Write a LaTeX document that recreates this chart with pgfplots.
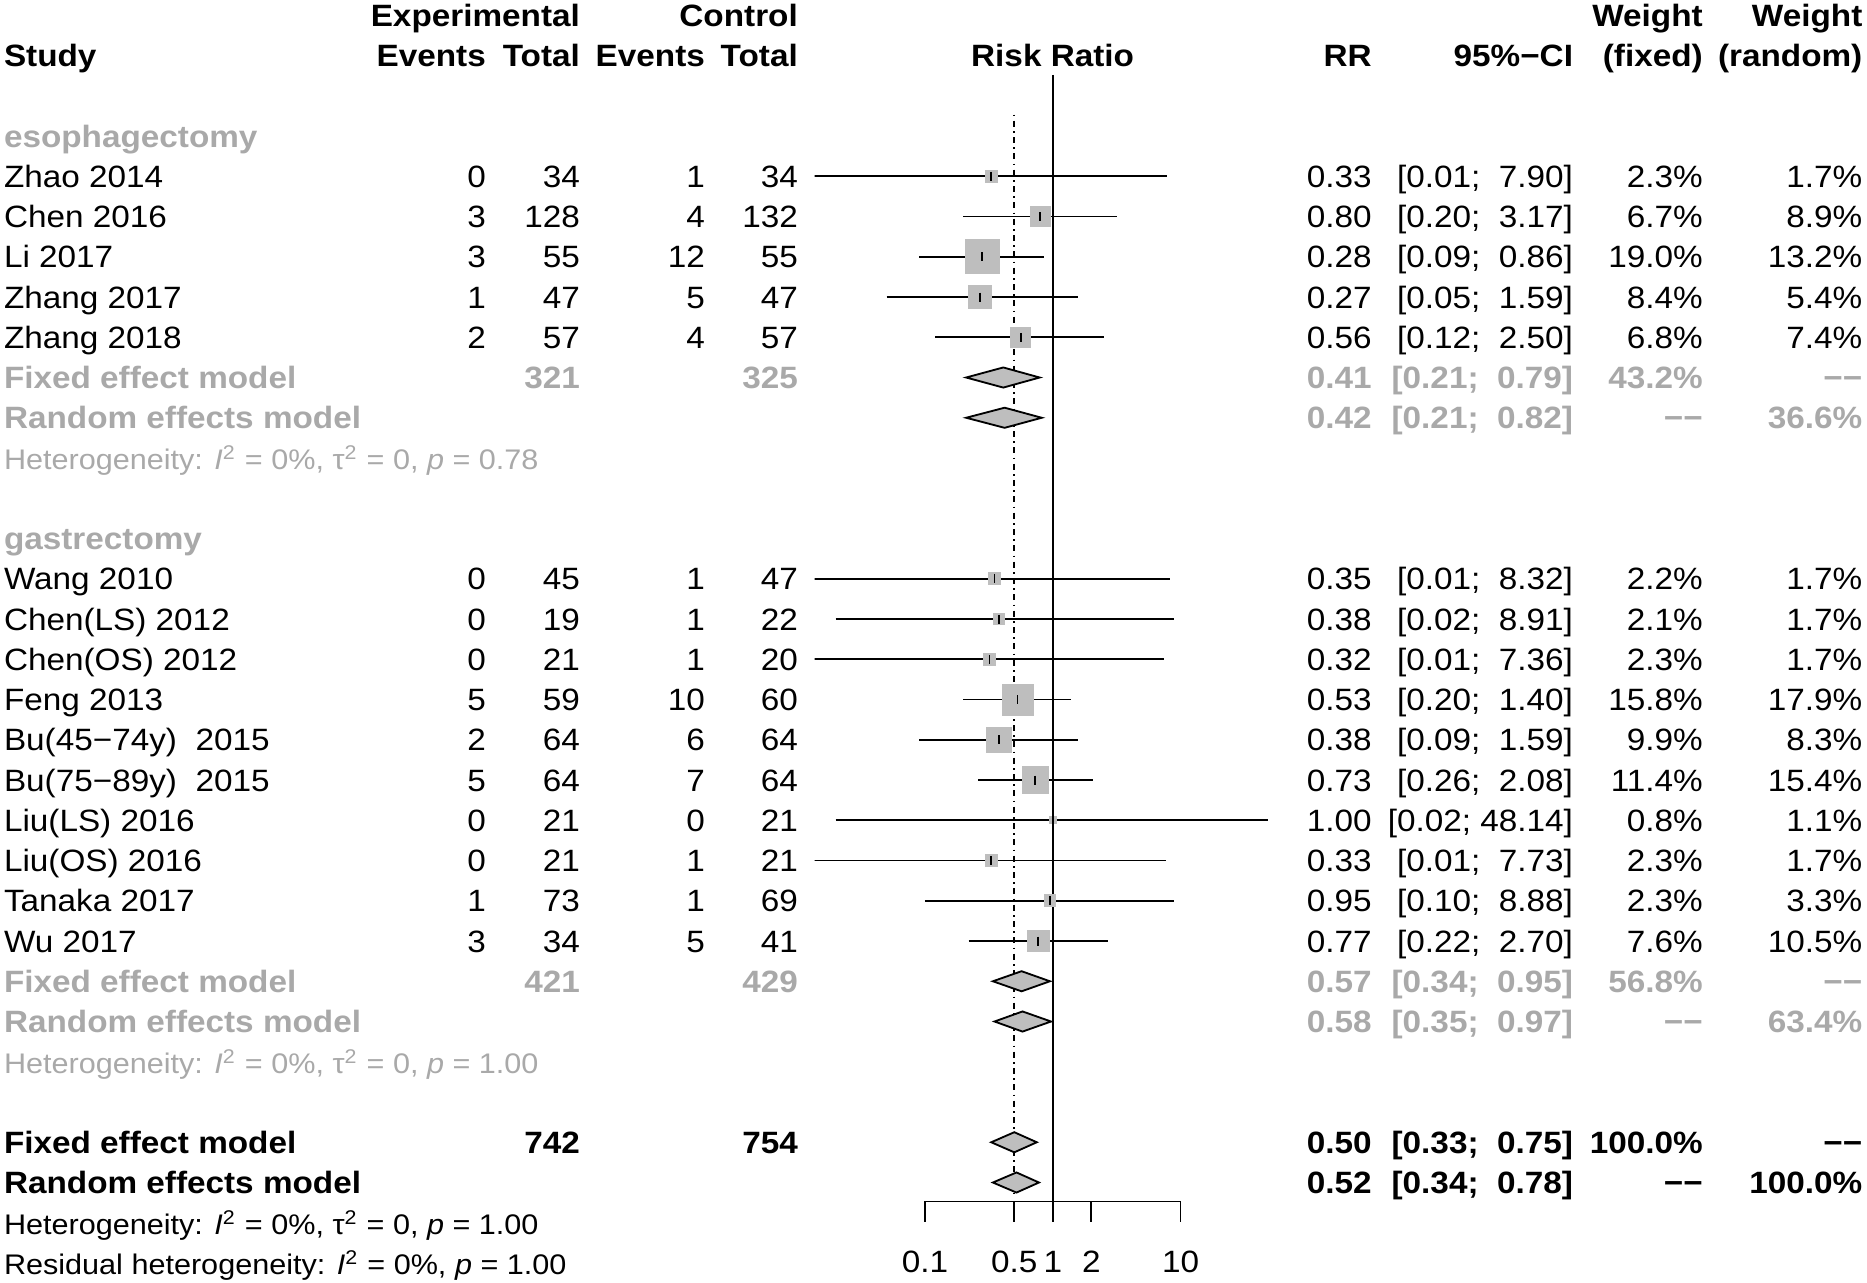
\documentclass[border=0pt]{standalone}
\usepackage{fontspec}
\setmainfont{Liberation Sans}[FakeStretch=1.08]
\usepackage{pgfplots}
\pgfplotsset{compat=1.18}
\usepackage{pgfplotstable}
\definecolor{tgray}{RGB}{169,169,169}
\definecolor{sqgray}{RGB}{190,190,190}

% study estimates: RR, row, fixed weight (%)
\pgfplotstableread{
rr y w
0.33 4 2.3
0.80 5 6.7
0.28 6 19.0
0.27 7 8.4
0.56 8 6.8
0.35 14 2.2
0.38 15 2.1
0.32 16 2.3
0.53 17 15.8
0.38 18 9.9
0.73 19 11.4
1.00 20 0.8
0.33 21 2.3
0.95 22 2.3
0.77 23 7.6
}\studies

\newcommand\study[6]{%
 \node[anchor=base west] at (4,#1) {#2};
 \node[anchor=base east] at (485.8,#1) {#3};
 \node[anchor=base east] at (579.9,#1) {#4};
 \node[anchor=base east] at (704.9,#1) {#5};
 \node[anchor=base east] at (797.8,#1) {#6};}
\newcommand\res[5]{%
 \node[anchor=base east] at (1371.7,#1) {#2};
 \node[anchor=base east] at (1573,#1) {#3};
 \node[anchor=base east] at (1702.7,#1) {#4};
 \node[anchor=base east] at (1862.3,#1) {#5};}
\newcommand\hs{\fontsize{8.5pt}{10pt}\selectfont}

\begin{document}
\fontsize{9.25pt}{11pt}\selectfont
\begin{tikzpicture}
\useasboundingbox (0pt,0pt) rectangle (560.1pt,-384.9pt);
\begin{axis}[
  at={(244.35pt,1.46pt)}, anchor=north west,
  scale only axis, width=142.95pt, height=386.4pt,
  xmode=log, xmin=0.01366, xmax=73.2,
  ymin=-0.5, ymax=31.5, y dir=reverse,
  axis lines=none, clip=true]
% reference lines
\addplot[black, line width=0.6pt] coordinates {(1,1.478) (1,29.47)};
\addplot[black, line width=0.55pt, dash pattern=on 0.5pt off 1.3pt on 1.8pt off 1.3pt] coordinates {(0.50,2.47) (0.50,29.3)};
% confidence intervals
\addplot[black, line width=0.55pt] coordinates {(0.01,4) (7.90,4)};
\addplot[black, line width=0.55pt] coordinates {(0.20,5) (3.17,5)};
\addplot[black, line width=0.55pt] coordinates {(0.09,6) (0.86,6)};
\addplot[black, line width=0.55pt] coordinates {(0.05,7) (1.59,7)};
\addplot[black, line width=0.55pt] coordinates {(0.12,8) (2.50,8)};
\addplot[black, line width=0.55pt] coordinates {(0.01,14) (8.32,14)};
\addplot[black, line width=0.55pt] coordinates {(0.02,15) (8.91,15)};
\addplot[black, line width=0.55pt] coordinates {(0.01,16) (7.36,16)};
\addplot[black, line width=0.55pt] coordinates {(0.20,17) (1.40,17)};
\addplot[black, line width=0.55pt] coordinates {(0.09,18) (1.59,18)};
\addplot[black, line width=0.55pt] coordinates {(0.26,19) (2.08,19)};
\addplot[black, line width=0.55pt] coordinates {(0.02,20) (48.14,20)};
\addplot[black, line width=0.55pt] coordinates {(0.01,21) (7.73,21)};
\addplot[black, line width=0.55pt] coordinates {(0.10,22) (8.88,22)};
\addplot[black, line width=0.55pt] coordinates {(0.22,23) (2.70,23)};
% weighted squares
\addplot[scatter, only marks, mark=square*,
  scatter/use mapped color={draw=sqgray, fill=sqgray},
  mark options={line width=0pt},
  visualization depends on={1.17*sqrt(\thisrow{w}) \as \msz},
  scatter/@pre marker code/.append style={/tikz/mark size=\msz pt}]
  table[x=rr, y=y] {\studies};
\addplot[only marks, mark=|, mark size=1.35pt, mark options={black, line width=0.55pt}]
  table[x=rr, y=y] {\studies};
% diamonds
\addplot[draw=black, fill=sqgray, line width=0.55pt] coordinates {(0.21,9) (0.41,8.75) (0.79,9) (0.41,9.25)} -- cycle;
\addplot[draw=black, fill=sqgray, line width=0.55pt] coordinates {(0.21,10) (0.42,9.75) (0.82,10) (0.42,10.25)} -- cycle;
\addplot[draw=black, fill=sqgray, line width=0.55pt] coordinates {(0.34,24) (0.57,23.75) (0.95,24) (0.57,24.25)} -- cycle;
\addplot[draw=black, fill=sqgray, line width=0.55pt] coordinates {(0.35,25) (0.58,24.75) (0.97,25) (0.58,25.25)} -- cycle;
\addplot[draw=black, fill=sqgray, line width=0.55pt] coordinates {(0.33,28) (0.50,27.75) (0.75,28) (0.50,28.25)} -- cycle;
\addplot[draw=black, fill=sqgray, line width=0.55pt] coordinates {(0.34,29) (0.52,28.75) (0.78,29) (0.52,29.25)} -- cycle;
% x axis
\draw[line width=0.55pt] (axis cs:0.1,29.47) -- (axis cs:10,29.47);
\draw[line width=0.55pt] (axis cs:0.1,29.47) -- (axis cs:0.1,29.97);
\draw[line width=0.55pt] (axis cs:0.5,29.47) -- (axis cs:0.5,29.97);
\draw[line width=0.55pt] (axis cs:1,29.47) -- (axis cs:1,29.97);
\draw[line width=0.55pt] (axis cs:2,29.47) -- (axis cs:2,29.97);
\draw[line width=0.55pt] (axis cs:10,29.47) -- (axis cs:10,29.97);
\end{axis}

\begin{scope}[x=0.3pt, y=-12.075pt, yshift=-7.95pt, every node/.style={inner sep=0pt, outer sep=0pt}]
% headers
\begin{scope}[every node/.append style={font=\bfseries}]
\node[anchor=base east] at (579.9,0) {Experimental};
\node[anchor=base east] at (797.8,0) {Control};
\node[anchor=base east] at (1702.7,0) {Weight};
\node[anchor=base east] at (1862.3,0) {Weight};
\study{1}{Study}{Events}{Total}{Events}{Total}
\node[anchor=base] at (1052.6,1) {Risk Ratio};
\res{1}{RR}{95\%−CI}{(fixed)}{(random)}
\end{scope}
% esophagectomy
\node[anchor=base west, text=tgray, font=\bfseries] at (4,3) {esophagectomy};
\study{4}{Zhao 2014}{0}{34}{1}{34}
\res{4}{0.33}{[0.01;\ \ 7.90]}{2.3\%}{1.7\%}
\study{5}{Chen 2016}{3}{128}{4}{132}
\res{5}{0.80}{[0.20;\ \ 3.17]}{6.7\%}{8.9\%}
\study{6}{Li 2017}{3}{55}{12}{55}
\res{6}{0.28}{[0.09;\ \ 0.86]}{19.0\%}{13.2\%}
\study{7}{Zhang 2017}{1}{47}{5}{47}
\res{7}{0.27}{[0.05;\ \ 1.59]}{8.4\%}{5.4\%}
\study{8}{Zhang 2018}{2}{57}{4}{57}
\res{8}{0.56}{[0.12;\ \ 2.50]}{6.8\%}{7.4\%}
\begin{scope}[every node/.append style={text=tgray, font=\bfseries}]
\study{9}{Fixed effect model}{}{321}{}{325}
\res{9}{0.41}{[0.21;\ \ 0.79]}{43.2\%}{−−}
\study{10}{Random effects model}{}{}{}{}
\res{10}{0.42}{[0.21;\ \ 0.82]}{−−}{36.6\%}
\end{scope}
\node[anchor=base west, text=tgray, font=\hs] at (4,11) {Heterogeneity: \textit{I}\textsuperscript{2} = 0\%, τ\textsuperscript{2} = 0, \textit{p} = 0.78};
% gastrectomy
\node[anchor=base west, text=tgray, font=\bfseries] at (4,13) {gastrectomy};
\study{14}{Wang 2010}{0}{45}{1}{47}
\res{14}{0.35}{[0.01;\ \ 8.32]}{2.2\%}{1.7\%}
\study{15}{Chen(LS) 2012}{0}{19}{1}{22}
\res{15}{0.38}{[0.02;\ \ 8.91]}{2.1\%}{1.7\%}
\study{16}{Chen(OS) 2012}{0}{21}{1}{20}
\res{16}{0.32}{[0.01;\ \ 7.36]}{2.3\%}{1.7\%}
\study{17}{Feng 2013}{5}{59}{10}{60}
\res{17}{0.53}{[0.20;\ \ 1.40]}{15.8\%}{17.9\%}
\study{18}{Bu(45−74y)\ \ 2015}{2}{64}{6}{64}
\res{18}{0.38}{[0.09;\ \ 1.59]}{9.9\%}{8.3\%}
\study{19}{Bu(75−89y)\ \ 2015}{5}{64}{7}{64}
\res{19}{0.73}{[0.26;\ \ 2.08]}{11.4\%}{15.4\%}
\study{20}{Liu(LS) 2016}{0}{21}{0}{21}
\res{20}{1.00}{[0.02; 48.14]}{0.8\%}{1.1\%}
\study{21}{Liu(OS) 2016}{0}{21}{1}{21}
\res{21}{0.33}{[0.01;\ \ 7.73]}{2.3\%}{1.7\%}
\study{22}{Tanaka 2017}{1}{73}{1}{69}
\res{22}{0.95}{[0.10;\ \ 8.88]}{2.3\%}{3.3\%}
\study{23}{Wu 2017}{3}{34}{5}{41}
\res{23}{0.77}{[0.22;\ \ 2.70]}{7.6\%}{10.5\%}
\begin{scope}[every node/.append style={text=tgray, font=\bfseries}]
\study{24}{Fixed effect model}{}{421}{}{429}
\res{24}{0.57}{[0.34;\ \ 0.95]}{56.8\%}{−−}
\study{25}{Random effects model}{}{}{}{}
\res{25}{0.58}{[0.35;\ \ 0.97]}{−−}{63.4\%}
\end{scope}
\node[anchor=base west, text=tgray, font=\hs] at (4,26) {Heterogeneity: \textit{I}\textsuperscript{2} = 0\%, τ\textsuperscript{2} = 0, \textit{p} = 1.00};
% overall
\begin{scope}[every node/.append style={font=\bfseries}]
\study{28}{Fixed effect model}{}{742}{}{754}
\res{28}{0.50}{[0.33;\ \ 0.75]}{100.0\%}{−−}
\study{29}{Random effects model}{}{}{}{}
\res{29}{0.52}{[0.34;\ \ 0.78]}{−−}{100.0\%}
\end{scope}
\node[anchor=base west, font=\hs] at (4,30) {Heterogeneity: \textit{I}\textsuperscript{2} = 0\%, τ\textsuperscript{2} = 0, \textit{p} = 1.00};
\node[anchor=base west, font=\hs] at (4,31) {Residual heterogeneity: \textit{I}\textsuperscript{2} = 0\%, \textit{p} = 1.00};
% tick labels
\node[anchor=base] at (925,30.96) {0.1};
\node[anchor=base] at (1014.3,30.96) {0.5};
\node[anchor=base] at (1052.8,30.96) {1};
\node[anchor=base] at (1091.3,30.96) {2};
\node[anchor=base] at (1180.6,30.96) {10};
\end{scope}
\end{tikzpicture}
\end{document}
